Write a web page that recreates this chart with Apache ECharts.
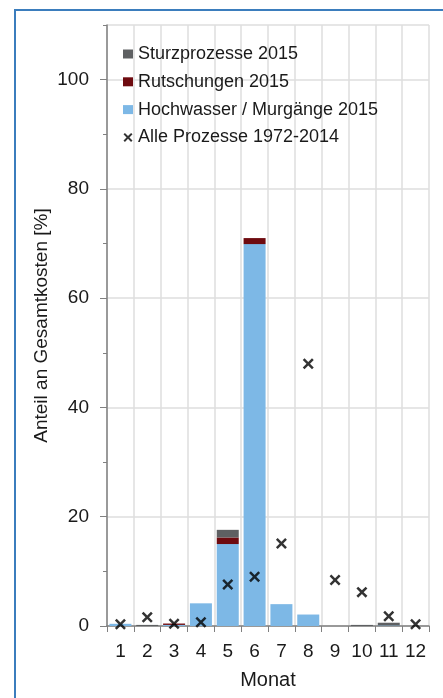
<!DOCTYPE html>
<html><head><meta charset="utf-8">
<script src="https://cdn.jsdelivr.net/npm/echarts@6/dist/echarts.min.js"></script>
<style>html,body{margin:0;padding:0;background:#fff}#c{width:443px;height:698px}</style>
</head><body><div id="c"></div>
<script>
const months = ['1','2','3','4','5','6','7','8','9','10','11','12'];
const hochwasser2015 = [0.4, 0, 0.2, 4.15, 15.0, 69.9, 4.0, 2.1, 0, 0, 0.1, 0];
const rutschungen2015 = [0, 0, 0.25, 0, 1.2, 1.1, 0, 0, 0, 0, 0, 0];
const sturz2015 = [0, 0.2, 0, 0, 1.4, 0, 0, 0, 0, 0.2, 0.5, 0];
const alle1972_2014 = [0.3, 1.6, 0.4, 0.7, 7.6, 9.0, 15.1, 48.0, 8.4, 6.2, 1.8, 0.3];
const yTicks = [0, 20, 40, 60, 80, 100];

const xPath = 'path://M0,1.6 L1.6,0 L5,3.4 L8.4,0 L10,1.6 L6.6,5 L10,8.4 L8.4,10 L5,6.6 L1.6,10 L0,8.4 L3.4,5 Z';
const font = 'Liberation Sans, Arial, sans-serif';
const chart = echarts.init(document.getElementById('c'));
chart.setOption({
  animation: false,
  backgroundColor: '#fff',
  textStyle: { fontFamily: font },
  graphic: [{ type: 'rect', shape: { x: 15, y: 10, width: 520, height: 760 },
    style: { fill: 'none', stroke: '#3b7dbd', lineWidth: 2 }, silent: true, z: 100 }],
  grid: { left: 107, right: 14, top: 25, bottom: 72 },
  legend: {
    orient: 'vertical', left: 123, top: 45, padding: 0, itemWidth: 10, itemHeight: 9, itemGap: 9.8,
    textStyle: { fontSize: 18, color: '#1a1a1a', fontFamily: font, lineHeight: 18, padding: [0, 0, 0, 0] },
    data: [
      { name: 'Sturzprozesse 2015', icon: 'rect' },
      { name: 'Rutschungen 2015', icon: 'rect' },
      { name: 'Hochwasser / Murgänge 2015', icon: 'rect' },
      { name: 'Alle Prozesse 1972-2014', icon: xPath }
    ]
  },
  xAxis: {
    type: 'category', data: months, name: 'Monat', nameLocation: 'middle', nameGap: 44,
    nameMoveOverlap: false,
    nameTextStyle: { fontSize: 20, color: '#1a1a1a' },
    axisLine: { lineStyle: { color: '#808080', width: 1.5 } },
    axisTick: { show: true, length: 6, lineStyle: { color: '#808080' } },
    axisLabel: { fontSize: 19, color: '#1a1a1a', margin: 16, interval: 0 },
    splitLine: { show: true, lineStyle: { color: '#dedede', width: 1.5 } }
  },
  yAxis: [{
    type: 'value', min: 0, max: 110, interval: 20,
    name: 'Anteil an Gesamtkosten [%]', nameLocation: 'middle', nameGap: 56, nameRotate: 90,
    nameMoveOverlap: false,
    nameTextStyle: { fontSize: 19, color: '#1a1a1a' },
    axisLine: { show: true, lineStyle: { color: '#808080', width: 1.5 } },
    axisTick: { show: true, length: 7, lineStyle: { color: '#808080' } },
    axisLabel: { fontSize: 19, color: '#1a1a1a', margin: 18, showMaxLabel: false,
      formatter: v => yTicks.includes(v) ? String(v) : '' },
    splitLine: { show: true, lineStyle: { color: '#dedede', width: 1.5 } }
  }, {
    type: 'value', min: 0, max: 110, interval: 10, position: 'left',
    axisLine: { show: false }, axisLabel: { show: false }, splitLine: { show: false },
    axisTick: { show: true, length: 4, lineStyle: { color: '#808080' } }
  }],
  series: [
    { name: 'Hochwasser / Murgänge 2015', type: 'bar', stack: 's', data: hochwasser2015, barWidth: '82%',
      itemStyle: { color: '#7db8e6' } },
    { name: 'Rutschungen 2015', type: 'bar', stack: 's', data: rutschungen2015,
      itemStyle: { color: '#6e0a0f' } },
    { name: 'Sturzprozesse 2015', type: 'bar', stack: 's', data: sturz2015,
      itemStyle: { color: '#5e6062' } },
    { name: 'Alle Prozesse 1972-2014', type: 'scatter', data: alle1972_2014, symbol: xPath, symbolSize: 11,
      itemStyle: { color: '#000' }, z: 10 }
  ]
});
</script></body></html>
